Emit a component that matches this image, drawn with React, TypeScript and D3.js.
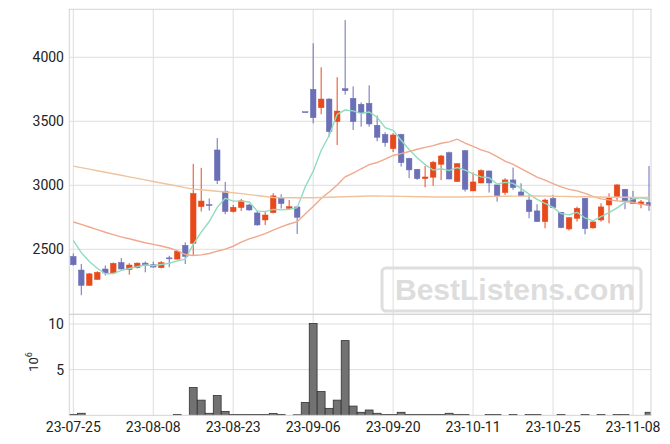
import React from 'react';
import * as d3 from 'd3';

const dates = [
  '2023-07-25','2023-07-26','2023-07-27','2023-07-28','2023-07-31',
  '2023-08-01','2023-08-02','2023-08-03','2023-08-04','2023-08-07',
  '2023-08-08','2023-08-09','2023-08-10','2023-08-11','2023-08-14',
  '2023-08-16','2023-08-17','2023-08-18','2023-08-21','2023-08-22',
  '2023-08-23','2023-08-24','2023-08-25','2023-08-28','2023-08-29',
  '2023-08-30','2023-08-31','2023-09-01','2023-09-04','2023-09-05',
  '2023-09-06','2023-09-07','2023-09-08','2023-09-11','2023-09-12',
  '2023-09-13','2023-09-14','2023-09-15','2023-09-18','2023-09-19',
  '2023-09-20','2023-09-21','2023-09-22','2023-09-25','2023-09-26',
  '2023-09-27','2023-10-04','2023-10-05','2023-10-06','2023-10-10',
  '2023-10-11','2023-10-12','2023-10-13','2023-10-16','2023-10-17',
  '2023-10-18','2023-10-19','2023-10-20','2023-10-23','2023-10-24',
  '2023-10-25','2023-10-26','2023-10-27','2023-10-30','2023-10-31',
  '2023-11-01','2023-11-02','2023-11-03','2023-11-06','2023-11-07',
  '2023-11-08','2023-11-09','2023-11-10',
];

const opens = [
  2444,2338,2218,2264,2346,2315,2397,2341,2356,2392,
  2379,2356,2433,2423,2531,2546,2833,2849,3276,2954,
  2795,2826,2846,2784,2729,2786,2901,2818,2831,3575,
  3750,3606,3674,3497,3755,3680,3633,3641,3469,3398,
  3286,3398,3211,3125,3052,3063,3164,3255,3029,3271,
  2956,3018,3112,3003,2943,3042,2948,2885,2800,2716,
  2898,2789,2659,2742,2898,2667,2729,2846,2911,2969,
  2904,2854,2867,
];
const highs = [
  2467,2385,2315,2328,2374,2397,2431,2392,2397,2405,
  2403,2408,2449,2487,2554,3167,3136,2897,3369,3026,
  2846,2893,2854,2800,2800,2938,2930,2885,2833,3575,
  4109,3922,3680,3844,4291,3773,3648,3781,3544,3414,
  3406,3402,3215,3128,3150,3190,3237,3263,3172,3276,
  3099,3125,3115,3005,3055,3138,3016,2925,2852,2896,
  2925,2792,2750,2833,2901,2719,2859,2937,3008,2972,
  2956,2885,3151,
];
const lows = [
  2372,2141,2215,2262,2295,2313,2341,2302,2351,2320,
  2356,2351,2359,2421,2385,2449,2795,2802,3010,2774,
  2787,2800,2802,2685,2690,2781,2818,2807,2620,3575,
  3484,3555,3380,3315,3708,3432,3458,3458,3344,3302,
  3260,3146,3055,3042,2984,2995,3040,3047,3027,2951,
  2955,3016,2943,2872,2925,2964,2915,2742,2714,2664,
  2822,2664,2646,2716,2617,2661,2716,2703,2878,2813,
  2855,2820,2800,
];
const closes = [
  2379,2218,2308,2320,2315,2390,2346,2377,2392,2379,
  2361,2395,2428,2485,2444,2936,2877,2843,3038,2795,
  2828,2878,2807,2690,2768,2917,2857,2833,2750,3575,
  3528,3674,3419,3580,3739,3497,3567,3479,3375,3333,
  3393,3177,3120,3052,3065,3180,3229,3049,3169,2969,
  3026,3115,3018,2919,3042,2982,2917,2794,2716,2885,
  2826,2669,2747,2820,2661,2714,2831,2906,3003,2878,
  2857,2870,2841,
];
// volume in millions of shares
const volumes = [
  0.10,0.22,0.01,0.01,0.01,0.01,0.01,0.01,0.01,0.01,
  0.01,0.01,0.01,0.10,0.01,3.04,1.66,0.22,2.17,0.43,
  0.08,0.08,0.08,0.08,0.08,0.20,0.10,0.01,0.06,1.41,
  10.05,2.60,0.76,1.66,8.18,1.01,0.33,0.58,0.22,0.08,
  0.08,0.33,0.08,0.08,0.08,0.08,0.08,0.22,0.10,0.10,
  0.01,0.01,0.08,0.08,0.01,0.08,0.01,0.08,0.08,0.01,
  0.01,0.08,0.01,0.01,0.08,0.01,0.08,0.01,0.08,0.08,
  0.01,0.01,0.33,
];

// moving-average values before enough in-window closes exist
const ma5Lead = [2569, 2474, 2405, 2352];
const ma20Lead = [
  2713,2695,2674,2654,2633,2615,2597,2582,2567,2551,
  2538,2526,2510,2490,2459,2451,2456,2467,2485,
];
// long moving average for every session
const maLong = [
  3150,3138,3126,3114,3102,3090,3078,3066,3054,3042,
  3030,3018,3006,2994,2982,2970,2965,2959,2953,2948,
  2942,2935,2927,2920,2912,2905,2903,2903,2903,2903,
  2903,2904,2906,2908,2910,2912,2914,2916,2916,2915,
  2914,2913,2912,2911,2910,2909,2908,2908,2908,2909,
  2910,2911,2912,2913,2914,2915,2915,2916,2916,2915,
  2914,2913,2912,2911,2910,2909,2908,2907,2906,2906,
  2905,2905,2904,
];

const priceTicks = [2500, 3000, 3500, 4000];
const volumeTicks = [5, 10];
const xTickIdx = [0, 10, 20, 30, 40, 50, 60, 70];

const W = 670, H = 444;
const L = 69.3, R = 651;
const mainTop = 9.3, mainBot = 314.3, volBot = 415.3;

const UP = '#e8491b';
const DOWN = '#6b6fb6';
const MA_COLORS = ['#8fdcc0', '#f0a88c', '#f0c39d'];
const GRID = '#dedede';
const FONT = 'Roboto, sans-serif';

function movingAvg(n: number, lead: number[]) {
  return closes.map((_, i) => {
    if (i < n - 1) return lead[i];
    return d3.mean(closes.slice(i - n + 1, i + 1)) as number;
  });
}

export default function App() {
  const x = d3.scaleLinear().domain([-0.5, 72.25]).range([L, R]);
  const y = d3.scaleLinear().domain([1992, 4375]).range([mainBot, mainTop]);
  const yv = d3.scaleLinear().domain([0, 11.06]).range([volBot, mainBot]);
  const step = x(1) - x(0);
  const bodyW = step * 0.7;
  const volW = step * 0.98;

  const mas = [movingAvg(5, ma5Lead), movingAvg(20, ma20Lead), maLong];
  const line = d3.line<number>().x((_, i) => x(i)).y((d) => y(d));

  const fmt = (s: string) => s.slice(2);

  return (
    <svg width={W} height={H} style={{ position: 'absolute', left: 0, top: 0, background: '#fff' }}>
      <defs>
        <clipPath id="mainClip"><rect x={L} y={mainTop} width={R - L} height={mainBot - mainTop} /></clipPath>
        <clipPath id="volClip"><rect x={L} y={mainBot} width={R - L} height={volBot - mainBot} /></clipPath>
      </defs>
      <rect x={0} y={0} width={W} height={H} fill="#fff" />
      {/* grids */}
      {xTickIdx.map((t) => (
        <line key={'gx' + t} x1={x(t)} x2={x(t)} y1={mainTop} y2={volBot} stroke={GRID} strokeWidth={1} />
      ))}
      {priceTicks.map((t) => (
        <line key={'gy' + t} x1={L} x2={R} y1={y(t)} y2={y(t)} stroke={GRID} strokeWidth={1} />
      ))}
      {volumeTicks.map((t) => (
        <line key={'gv' + t} x1={L} x2={R} y1={yv(t)} y2={yv(t)} stroke={GRID} strokeWidth={1} />
      ))}
      {/* watermark */}
      <rect x={382} y={268} width={259} height={43} rx={4} fill="none" stroke="#dedede" strokeWidth={3} />
      <text x={395} y={300} fontFamily="'Liberation Sans', Arial, sans-serif" fontWeight="bold" fontSize={30} fill="#dddddd">BestListens.com</text>
      {/* candles */}
      <g clipPath="url(#mainClip)">
        {closes.map((c, i) => {
          const o = opens[i];
          const col = c > o ? UP : DOWN;
          const top = y(Math.max(o, c));
          const h = Math.max(Math.abs(y(o) - y(c)), 1);
          return (
            <g key={'c' + i}>
              <line x1={x(i)} x2={x(i)} y1={y(highs[i])} y2={y(lows[i])} stroke={col} strokeWidth={1} />
              <rect x={x(i) - bodyW / 2} y={top} width={bodyW} height={h} fill={col} stroke={col} strokeWidth={0.5} />
            </g>
          );
        })}
        {mas.map((m, k) => (
          <path key={'ma' + k} d={line(m) || ''} fill="none" stroke={MA_COLORS[k]} strokeWidth={1.4} />
        ))}
      </g>
      {/* volume */}
      <g clipPath="url(#volClip)">
        {volumes.map((v, i) => {
          const top = yv(v);
          const h = volBot - top;
          return (
            <rect key={'v' + i} x={x(i) - volW / 2} y={top} width={volW} height={h}
              fill="#727272" stroke={h > 0.5 ? '#333' : 'none'} strokeWidth={0.8} />
          );
        })}
      </g>
      {/* spines */}
      <rect x={L} y={mainTop} width={R - L} height={mainBot - mainTop} fill="none" stroke="#d4d4d4" strokeWidth={1} />
      <rect x={L} y={mainBot} width={R - L} height={volBot - mainBot} fill="none" stroke="#d4d4d4" strokeWidth={1} />
      {/* tick labels */}
      {priceTicks.map((t) => (
        <text key={'py' + t} x={64} y={y(t)} dy="0.36em" textAnchor="end" fontFamily={FONT} fontSize={14} fill="#222">{t}</text>
      ))}
      {volumeTicks.map((t) => (
        <text key={'vy' + t} x={64} y={yv(t)} dy="0.36em" textAnchor="end" fontFamily={FONT} fontSize={14} fill="#222">{t}</text>
      ))}
      {xTickIdx.map((t) => (
        <text key={'xl' + t} x={x(t)} y={431.5} textAnchor="middle" fontFamily={FONT} fontSize={14} fill="#222">{fmt(dates[t])}</text>
      ))}
      <text transform="translate(38.3,362) rotate(-90)" textAnchor="middle" fontFamily={FONT} fontSize={13} fill="#222">
        10<tspan dy={-6} fontSize={9}>6</tspan>
      </text>
    </svg>
  );
}
